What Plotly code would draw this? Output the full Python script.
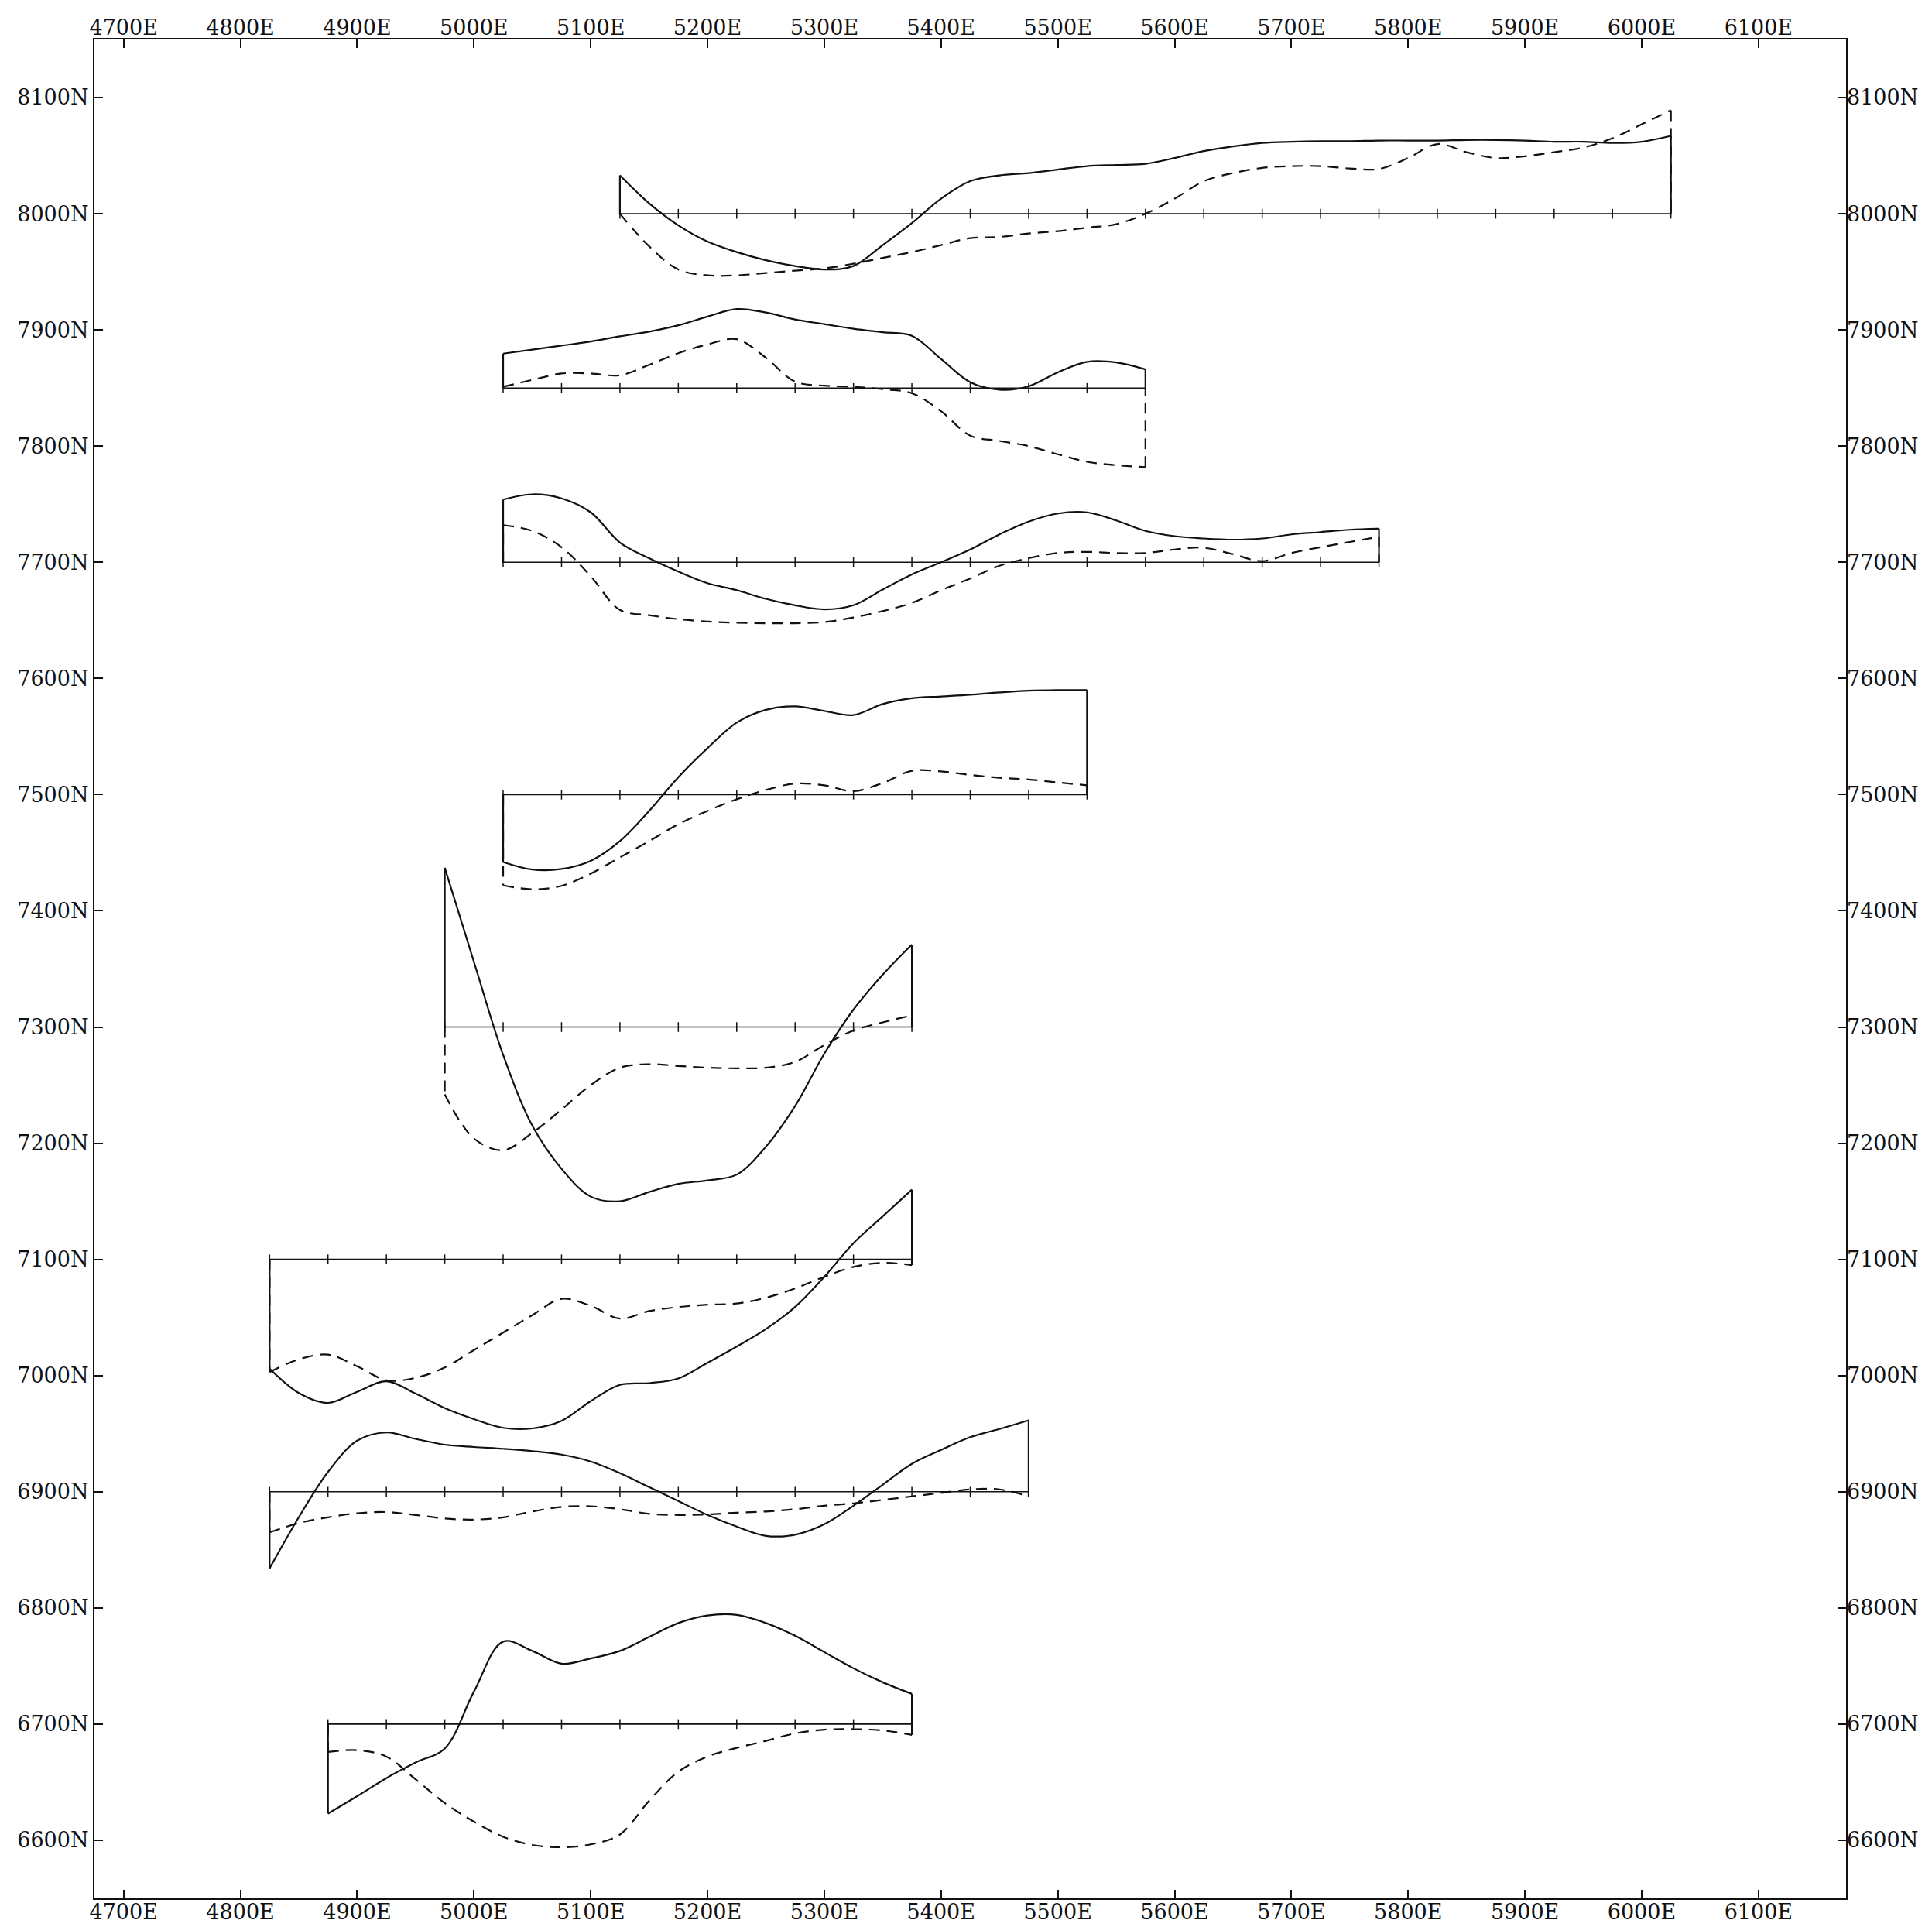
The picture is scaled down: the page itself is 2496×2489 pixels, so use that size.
import plotly.graph_objects as go

# ---------------- axis ticks ----------------
X_TICKS = list(range(4700, 6101, 100))
X_TICK_LABELS = [f"{v}E" for v in X_TICKS]
Y_TICKS = list(range(6600, 8101, 100))
Y_TICK_LABELS = [f"{v}N" for v in Y_TICKS]

STEP = 25          # sample spacing along each line (E)
STATION = 50       # station tick spacing (E)

# ---------------- profile data (offsets from the line northing) ----------------
L8000_START, L8000_END = 5125, 6025
SOLID_8000 = [33, 9, -10, -24, -33, -40, -45, -48, -45, -27, -8, 13, 28, 33, 35, 38, 41, 42, 43,
              48, 54, 58, 61, 62, 62.5, 62.5, 63, 63, 63, 63.5, 63.5, 63, 62, 62, 61, 62, 67]
DASH_8000 = [0, -28, -48, -53, -53, -51, -49, -47, -43, -38, -33, -27, -21, -20, -17, -15, -12, -9, 0,
             13, 28, 35, 39.5, 41, 41, 39, 38.5, 48, 60, 53, 48, 49.5, 53, 57, 65, 77, 89]

L7850_START, L7850_END = 5025, 5575
SOLID_7850 = [29.6, 33, 36.5, 40, 44.5, 48.5, 54, 61.5, 68, 65, 59, 55, 51, 48, 45, 25, 5, -1.5, 1.5,
              13.5, 22.5, 22, 16]
DASH_7850 = [1, 7, 12.5, 12.5, 11, 20, 30, 37.5, 42, 26, 5.5, 2, 1, -1, -4.5, -20, -41, -45.5, -50,
             -57, -63.5, -66.5, -68]

L7700_START, L7700_END = 5025, 5775
SOLID_7700 = [54, 58.5, 55, 43, 17, 3.5, -8, -18, -24, -31.5, -37, -40.5, -37, -23.5, -10.5, 0, 11,
              24, 35, 42, 43, 36, 27, 22.5, 20.5, 19.5, 20.5, 24, 26, 28, 29]
DASH_7700 = [32, 27, 13, -12, -41, -45.5, -49, -51, -52, -52.5, -52.5, -51.5, -47.5, -42, -35, -24,
             -14, -3, 3.5, 8, 9, 8, 8, 11, 12.5, 7, 1, 8, 13, 17.5, 22]

L7500_START, L7500_END = 5025, 5525
SOLID_7500 = [-58, -64.5, -64, -57, -40, -14, 15, 40, 62, 73, 76, 72, 68.5, 78, 83, 84.5, 86, 88,
              89.5, 90, 90]
DASH_7500 = [-78, -81.5, -78.5, -68, -54, -40, -25.5, -14, -4, 4, 9.5, 8, 3, 10, 20.5, 20, 17, 14.5,
             13, 10.5, 8]

L7300_START, L7300_END = 4975, 5375
SOLID_7300 = [137, 56, -24, -85, -122, -146, -150, -142, -135, -132, -127, -103, -68, -23, 15, 45, 71]
DASH_7300 = [-58, -96, -106, -91, -71, -50, -35, -32, -33.5, -35, -35.5, -35, -30, -15.5, -3, 4, 10]

L7100_START, L7100_END = 4825, 5375
SOLID_7100 = [-94, -115, -123.5, -114, -105, -115.5, -128, -137.5, -145, -145.5, -139, -122, -108,
              -106.5, -102.5, -89, -75, -60, -41, -15, 14, 37, 60]
DASH_7100 = [-97, -86, -82, -92, -104, -102, -93, -78, -63, -48, -34, -40, -51, -44.5, -41, -39, -38,
             -33, -25, -15, -6.5, -3, -5]

L6900_START, L6900_END = 4825, 5475
SOLID_6900 = [-66, -22, 17, 44, 51, 45.5, 40.5, 38.5, 37, 35, 32, 26, 16, 4, -8, -20, -30, -38, -37,
              -28, -12, 6, 24, 36, 47, 54, 61.5]
DASH_6900 = [-35, -27, -22, -18.5, -17.5, -20, -23, -24, -22, -17, -13, -12.5, -15, -19, -20, -19.5,
             -18, -17, -15, -12, -10, -7, -4, -1, 2, 2, -4]

L6700_START, L6700_END = 4875, 5375
SOLID_6700 = [-77, -62, -46.5, -33, -21, 28, 71, 63, 52, 56.5, 63, 75, 87, 93.5, 94, 87, 76, 62, 48,
              36, 26]
DASH_6700 = [-24, -22.5, -28, -47.5, -68, -84, -97, -104, -106, -103.5, -95, -66, -41, -28, -20.5,
             -14.5, -8, -4.8, -4.4, -5.5, -9.3]

PROFILES = [
    (8000, L8000_START, L8000_END, SOLID_8000, DASH_8000),
    (7850, L7850_START, L7850_END, SOLID_7850, DASH_7850),
    (7700, L7700_START, L7700_END, SOLID_7700, DASH_7700),
    (7500, L7500_START, L7500_END, SOLID_7500, DASH_7500),
    (7300, L7300_START, L7300_END, SOLID_7300, DASH_7300),
    (7100, L7100_START, L7100_END, SOLID_7100, DASH_7100),
    (6900, L6900_START, L6900_END, SOLID_6900, DASH_6900),
    (6700, L6700_START, L6700_END, SOLID_6700, DASH_6700),
]

INK = "#111111"
FONT = dict(family="DejaVu Serif", size=27, color=INK)
LW = 2.2
DASH = "14px,9px"

fig = go.Figure()


def add_curve(e, n0, vals, dash):
    y = [n0 + v for v in vals]
    fig.add_trace(go.Scatter(x=e, y=y, mode="lines", hoverinfo="skip", showlegend=False,
                             line=dict(color=INK, width=LW, dash=dash, shape="spline", smoothing=1.0)))
    # closing verticals at both ends of the line
    fig.add_trace(go.Scatter(x=[e[0], e[0], None, e[-1], e[-1]],
                             y=[n0, y[0], None, y[-1], n0],
                             mode="lines", hoverinfo="skip", showlegend=False,
                             line=dict(color=INK, width=LW, dash=dash)))


for n0, e0, e1, solid, dashed in PROFILES:
    e = list(range(e0, e1 + 1, STEP))
    assert len(e) == len(solid) == len(dashed), (n0, len(e), len(solid), len(dashed))
    add_curve(e, n0, dashed, DASH)
    add_curve(e, n0, solid, "solid")
    # base line
    fig.add_trace(go.Scatter(x=[e0, e1], y=[n0, n0], mode="lines", hoverinfo="skip", showlegend=False,
                             line=dict(color=INK, width=1.6)))
    st = list(range(e0, e1 + 1, STATION))
    fig.add_trace(go.Scatter(x=st, y=[n0] * len(st), mode="markers", hoverinfo="skip", showlegend=False,
                             marker=dict(symbol="line-ns", size=9, line=dict(color=INK, width=1.5))))

# dummy trace so the mirrored label axes render
fig.add_trace(go.Scatter(x=[X_TICKS[0]], y=[Y_TICKS[0]], xaxis="x2", yaxis="y2", mode="markers",
                         marker=dict(opacity=0), hoverinfo="skip", showlegend=False))

XR = [4675, 6175]
YR = [6550, 8150]
common = dict(ticks="inside", ticklen=11, tickwidth=2, tickcolor=INK, showgrid=False, zeroline=False,
              tickfont=FONT, automargin=False)

fig.update_layout(
    width=2496, height=2489,
    margin=dict(l=122, r=111, t=51, b=37),
    paper_bgcolor="white", plot_bgcolor="white",
    showlegend=False,
    xaxis=dict(range=XR, tickvals=X_TICKS, ticktext=X_TICK_LABELS, showline=True, linewidth=2,
               linecolor=INK, mirror=True, ticklabelstandoff=-7, **common),
    yaxis=dict(range=YR, tickvals=Y_TICKS, ticktext=Y_TICK_LABELS, showline=True, linewidth=2,
               linecolor=INK, mirror=True, **common),
    xaxis2=dict(range=XR, overlaying="x", side="top", tickvals=X_TICKS, ticktext=X_TICK_LABELS,
                showline=False, **common),
    yaxis2=dict(range=YR, overlaying="y", side="right", tickvals=Y_TICKS, ticktext=Y_TICK_LABELS,
                showline=False, **common),
)

fig.write_html("out.html")
